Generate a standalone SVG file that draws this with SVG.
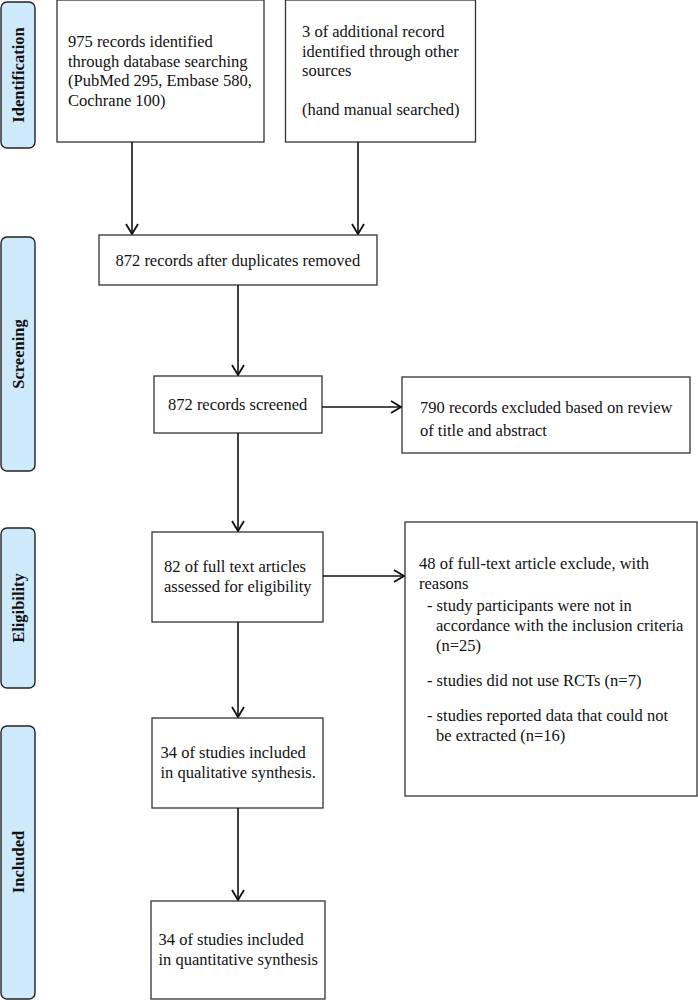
<svg xmlns="http://www.w3.org/2000/svg" width="698" height="1000" viewBox="0 0 698 1000">
<defs>
<marker id="arr" viewBox="0 0 12 14" refX="11" refY="7" markerWidth="12" markerHeight="14" markerUnits="userSpaceOnUse" orient="auto">
<path d="M1,1 L11,7 L1,13" fill="none" stroke="#111" stroke-width="1.8"/>
</marker>
<style>
.box{fill:#fff;stroke:#333;stroke-width:1.3}
.side{fill:#cde9fa;stroke:#222;stroke-width:1.4}
.t{font-family:"Liberation Serif","Times New Roman",serif;font-size:16.5px;fill:#111}
.s{font-family:"Liberation Serif","Times New Roman",serif;font-size:16.5px;font-weight:bold;fill:#111}
.c{fill:none;stroke:#111;stroke-width:1.6}
</style>
</defs>
<rect width="698" height="1000" fill="#fff"/>
<g id="side-identification"><rect class="side" x="1" y="2" width="34" height="146" rx="6"/><text class="s" transform="translate(24,75) rotate(-90)" text-anchor="middle">Identification</text></g>
<g id="side-screening"><rect class="side" x="1" y="237" width="34" height="234" rx="6"/><text class="s" transform="translate(24,354) rotate(-90)" text-anchor="middle">Screening</text></g>
<g id="side-eligibility"><rect class="side" x="1" y="528" width="34" height="160" rx="6"/><text class="s" transform="translate(24,608) rotate(-90)" text-anchor="middle">Eligibility</text></g>
<g id="side-included"><rect class="side" x="1" y="726" width="34" height="273" rx="6"/><text class="s" transform="translate(24,862) rotate(-90)" text-anchor="middle">Included</text></g>

<g id="n-db"><rect class="box" x="57" y="0" width="207" height="142"/>
<text class="t" x="68" y="47">975 records identified</text>
<text class="t" x="68" y="66.7">through database searching</text>
<text class="t" x="68" y="86.4">(PubMed 295, Embase 580,</text>
<text class="t" x="68" y="106">Cochrane 100)</text></g>
<g id="n-other"><rect class="box" x="285.5" y="0" width="190" height="142"/>
<text class="t" x="302" y="37">3 of additional record</text>
<text class="t" x="302" y="56.7">identified through other</text>
<text class="t" x="302" y="76">sources</text>
<text class="t" x="302" y="115">(hand manual searched)</text></g>
<g id="n-dup"><rect class="box" x="99" y="235" width="278" height="50"/>
<text class="t" x="115.5" y="265.5">872 records after duplicates removed</text></g>
<g id="n-screened"><rect class="box" x="154" y="376" width="168" height="57"/>
<text class="t" x="168" y="410">872 records screened</text></g>
<g id="n-excl1"><rect class="box" x="402" y="377" width="288" height="76"/>
<text class="t" x="420" y="413">790 records excluded based on review</text>
<text class="t" x="420" y="436">of title and abstract</text></g>
<g id="n-full"><rect class="box" x="152" y="532" width="171" height="90"/>
<text class="t" x="164" y="572">82 of full text articles</text>
<text class="t" x="164" y="591.5">assessed for eligibility</text></g>
<g id="n-excl2"><rect class="box" x="405" y="522" width="292" height="274"/>
<text class="t" x="419" y="569">48 of full-text article exclude, with</text>
<text class="t" x="419" y="589">reasons</text>
<text class="t" x="427" y="611">- study participants were not in</text>
<text class="t" x="436" y="631">accordance with the inclusion criteria</text>
<text class="t" x="436" y="651">(n=25)</text>
<text class="t" x="427" y="686">- studies did not use RCTs (n=7)</text>
<text class="t" x="427" y="721">- studies reported data that could not</text>
<text class="t" x="436" y="741">be extracted (n=16)</text></g>
<g id="n-qual"><rect class="box" x="152" y="718" width="171" height="90"/>
<text class="t" x="160.5" y="758">34 of studies included</text>
<text class="t" x="160.5" y="777.5">in qualitative synthesis.</text></g>
<g id="n-quant"><rect class="box" x="151" y="901" width="174" height="98"/>
<text class="t" x="158.5" y="945">34 of studies included</text>
<text class="t" x="158.5" y="964.5">in quantitative synthesis</text></g>

<g id="connectors">
<line class="c" x1="132" y1="142" x2="132" y2="234" marker-end="url(#arr)"/>
<line class="c" x1="358" y1="142" x2="358" y2="234" marker-end="url(#arr)"/>
<line class="c" x1="238" y1="285" x2="238" y2="375" marker-end="url(#arr)"/>
<line class="c" x1="322" y1="407" x2="401" y2="407" marker-end="url(#arr)"/>
<line class="c" x1="238" y1="433" x2="238" y2="531" marker-end="url(#arr)"/>
<line class="c" x1="323" y1="576" x2="404" y2="576" marker-end="url(#arr)"/>
<line class="c" x1="238" y1="622" x2="238" y2="717" marker-end="url(#arr)"/>
<line class="c" x1="238" y1="808" x2="238" y2="900" marker-end="url(#arr)"/>
</g>
</svg>
